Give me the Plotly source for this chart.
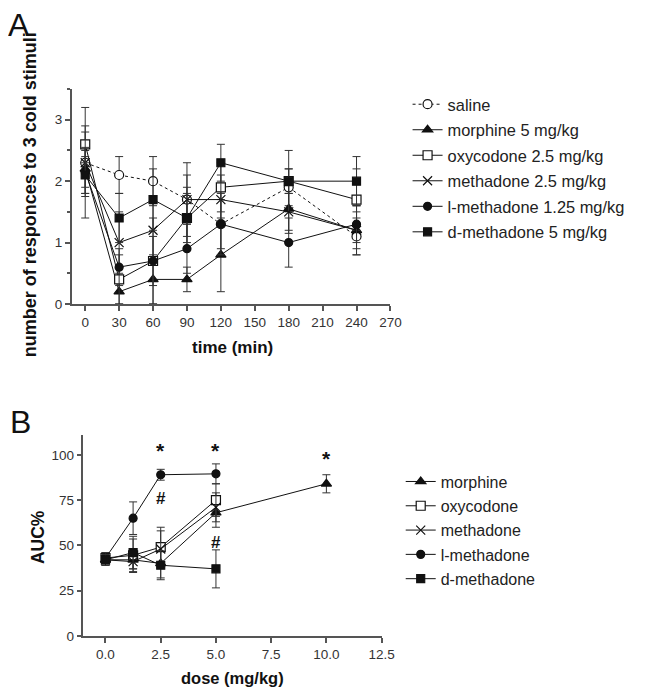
import plotly.graph_objects as go

# ---------------- Panel A data ----------------
time_min = [0, 30, 60, 90, 120, 180, 240]
saline = [2.3, 2.1, 2.0, 1.7, 1.3, 1.9, 1.1]
saline_err = [0.9, 0.3, 0.4, 0.6, 0.4, 0.3, 0.3]
morphine5 = [2.2, 0.2, 0.4, 0.4, 0.8, 1.55, 1.2]
morphine5_err = [0.3, 0.2, 0.4, 0.2, 0.6, 0.4, 0.3]
oxycodone25 = [2.6, 0.4, 0.7, 1.4, 1.9, 2.0, 1.7]
oxycodone25_err = [0.3, 0.4, 0.7, 0.5, 0.4, 0.5, 0.5]
methadone25 = [2.3, 1.0, 1.2, 1.7, 1.7, 1.5, 1.2]
methadone25_err = [0.5, 0.5, 0.5, 0.4, 0.4, 0.3, 0.4]
lmethadone125 = [2.15, 0.6, 0.7, 0.9, 1.3, 1.0, 1.3]
lmethadone125_err = [0.4, 0.3, 0.4, 0.4, 0.5, 0.4, 0.3]
dmethadone5 = [2.1, 1.4, 1.7, 1.4, 2.3, 2.0, 2.0]
dmethadone5_err = [0.3, 0.4, 0.5, 0.4, 0.3, 0.2, 0.4]
time_ticks = [0, 30, 60, 90, 120, 150, 180, 210, 240, 270]
resp_ticks = [0, 1, 2, 3]

# ---------------- Panel B data ----------------
dose_morphine = [0, 1.25, 2.5, 5, 10]
auc_morphine = [42, 42, 40, 68, 84]
auc_morphine_err = [3, 5, 8, 8, 5]
dose_other = [0, 1.25, 2.5, 5]
auc_oxycodone = [43, 44.5, 49, 75]
auc_oxycodone_err = [3, 9, 11, 9]
auc_methadone = [42, 41, 48, 71]
auc_methadone_err = [3, 6, 10, 8]
auc_lmethadone = [43, 65, 89, 89.5]
auc_lmethadone_err = [3, 9, 3, 5.5]
auc_dmethadone = [42, 46, 39, 37]
auc_dmethadone_err = [3, 9, 8, 10.5]
dose_ticks = [0, 2.5, 5, 7.5, 10, 12.5]
auc_ticks = [0, 25, 50, 75, 100]

# significance marks: (dose, AUC position, label)
sig_marks = [(2.5, 102.6, "*"), (5.0, 102.6, "*"), (10.0, 98.2, "*"),
             (2.5, 76.0, "#"), (5.0, 51.8, "#")]

FONT = "Liberation Sans, Arial, sans-serif"
LINE = "#111"
ERR = "#333"
AX = "#555"

fig = go.Figure()

def add(x, y, err, name, symbol, fill, size, dash, xa, ya, legend, grp):
    fig.add_trace(go.Scatter(
        x=x, y=y, name=name, mode="lines+markers",
        line=dict(color=LINE, width=1, dash=dash),
        marker=dict(symbol=symbol, size=size, color=fill,
                    line=dict(color=LINE, width=1.2)),
        error_y=dict(type="data", array=err, visible=True, color=ERR,
                     thickness=1, width=4),
        xaxis=xa, yaxis=ya, legend=legend, legendgroup=grp,
    ))

# Panel A
add(time_min, saline, saline_err, "saline", "circle", "white", 9, "dot", "x", "y", "legend", "a1")
add(time_min, morphine5, morphine5_err, "morphine 5 mg/kg", "triangle-up", LINE, 9, "solid", "x", "y", "legend", "a2")
add(time_min, oxycodone25, oxycodone25_err, "oxycodone 2.5 mg/kg", "square", "white", 9, "solid", "x", "y", "legend", "a3")
add(time_min, methadone25, methadone25_err, "methadone 2.5 mg/kg", "x-thin-open", LINE, 9, "solid", "x", "y", "legend", "a4")
add(time_min, lmethadone125, lmethadone125_err, "l-methadone 1.25 mg/kg", "circle", LINE, 8, "solid", "x", "y", "legend", "a5")
add(time_min, dmethadone5, dmethadone5_err, "d-methadone 5 mg/kg", "square", LINE, 8, "solid", "x", "y", "legend", "a6")

# Panel B
add(dose_morphine, auc_morphine, auc_morphine_err, "morphine", "triangle-up", LINE, 9, "solid", "x2", "y2", "legend2", "b1")
add(dose_other, auc_oxycodone, auc_oxycodone_err, "oxycodone", "square", "white", 9, "solid", "x2", "y2", "legend2", "b2")
add(dose_other, auc_methadone, auc_methadone_err, "methadone", "x-thin-open", LINE, 9, "solid", "x2", "y2", "legend2", "b3")
add(dose_other, auc_lmethadone, auc_lmethadone_err, "l-methadone", "circle", LINE, 8, "solid", "x2", "y2", "legend2", "b4")
add(dose_other, auc_dmethadone, auc_dmethadone_err, "d-methadone", "square", LINE, 8, "solid", "x2", "y2", "legend2", "b5")

# the page body keeps an 8 px margin, so the figure is sized to fit the window
OFF = 8
W, H = 645 - 2 * OFF, 697 - 2 * OFF
def px(v):
    return (v - OFF) / W
def py(v):
    return 1 - (v - OFF) / H

axis_common = dict(showline=True, linecolor=AX, linewidth=1.5, ticks="outside",
                   ticklen=5, tickwidth=1.5, tickcolor=AX, showgrid=False,
                   zeroline=False, tickfont=dict(family=FONT, size=13.5, color="#333"))

def lab(text, x, y, size, angle=0):
    return dict(text=text, x=px(x), y=py(y), xref="paper", yref="paper",
                xanchor="center", yanchor="middle", showarrow=False,
                textangle=angle, font=dict(family=FONT, size=size, color="#111"))

annotations = [
    lab("A", 19.5, 25, 32),
    lab("B", 21, 427, 32),
    lab("<b>number of responces to 3 cold stimuli</b>", 30, 197, 18, -90),
    lab("<b>time (min)</b>", 237, 352, 17),
    lab("<b>AUC%</b>", 38, 543, 17.5, -90),
    lab("<b>dose (mg/kg)</b>", 237, 686, 16.5),
]
for xv, yv, s in sig_marks:
    annotations.append(dict(text="<b>%s</b>" % s, x=xv, y=yv, xref="x2", yref="y2",
                            xanchor="center", yanchor="middle", showarrow=False,
                            font=dict(family=FONT, size=21 if s == "*" else 17, color="#111")))

fig.update_layout(
    width=W, height=H, margin=dict(l=0, r=0, t=0, b=0),
    paper_bgcolor="white", plot_bgcolor="white",
    font=dict(family=FONT, color="#222"),
    xaxis=dict(domain=[px(73), px(398.5)], range=[-12, 270], tickvals=time_ticks,
               anchor="y", **axis_common),
    yaxis=dict(domain=[py(307.5), py(90)], range=[0, 3.5], tickvals=resp_ticks,
               anchor="x", minor=dict(dtick=0.5, ticks="outside", ticklen=3,
                                      tickwidth=1.5, tickcolor=AX),
               **axis_common),
    xaxis2=dict(domain=[px(85), px(389.5)], range=[-1, 12.5], tickvals=dose_ticks,
                ticktext=["%.1f" % v for v in dose_ticks], anchor="y2", **axis_common),
    yaxis2=dict(domain=[py(643.3), py(440)], range=[0, 111], tickvals=auc_ticks,
                anchor="x2", **axis_common),
    legend=dict(x=px(416), y=py(88), xanchor="left", yanchor="top",
                font=dict(family=FONT, size=16.4, color="#222"),
                tracegroupgap=1.2, itemwidth=30, bgcolor="rgba(0,0,0,0)"),
    legend2=dict(x=px(409), y=py(470), xanchor="left", yanchor="top",
                 font=dict(family=FONT, size=16, color="#222"),
                 tracegroupgap=0.5, itemwidth=30, bgcolor="rgba(0,0,0,0)"),
    annotations=annotations,
    showlegend=True,
)

fig.write_html("out.html")
